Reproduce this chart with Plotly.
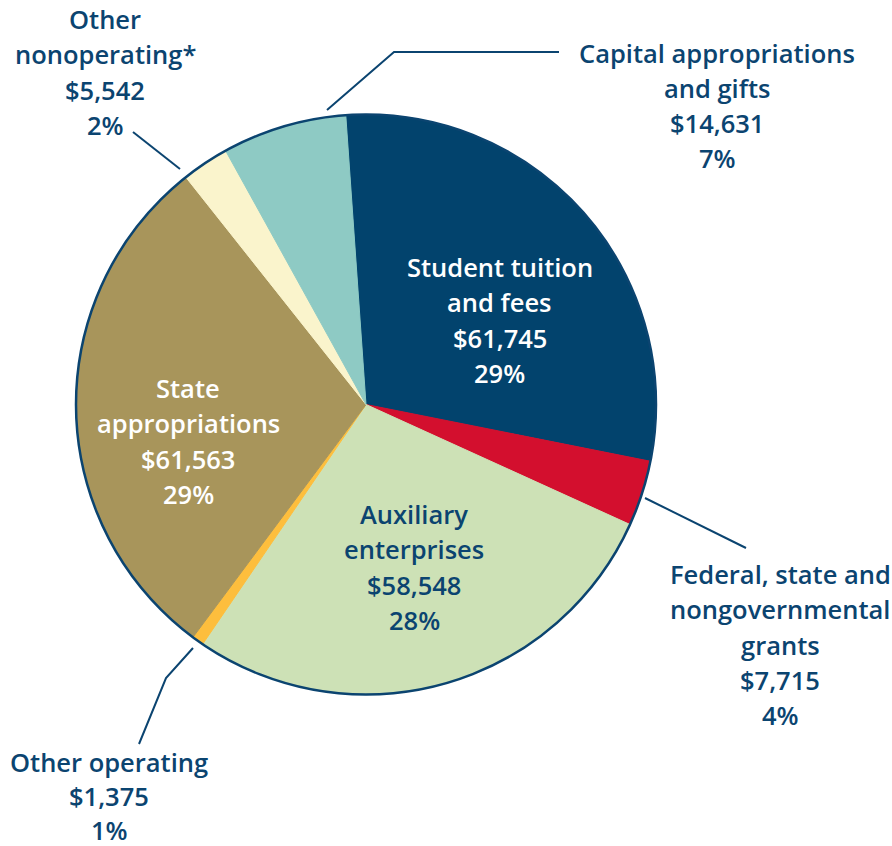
import plotly.graph_objects as go

# ---------------- data ----------------
categories = [
    "Student tuition and fees",
    "Federal, state and nongovernmental grants",
    "Auxiliary enterprises",
    "Other operating",
    "State appropriations",
    "Other nonoperating*",
    "Capital appropriations and gifts",
]
values = [61745, 7715, 58548, 1375, 61563, 5542, 14631]
percents = ["29%", "4%", "28%", "1%", "29%", "2%", "7%"]
label_lines = [
    ["Student tuition", "and fees"],
    ["Federal, state and", "nongovernmental", "grants"],
    ["Auxiliary", "enterprises"],
    ["Other operating"],
    ["State", "appropriations"],
    ["Other", "nonoperating*"],
    ["Capital appropriations", "and gifts"],
]

# ---------------- style ----------------
W, H = 892, 846
NAVY = "#0B4470"
colors = ["#02436D", "#D30F2E", "#CDE1B6", "#FDBE3D", "#A8955B", "#FAF4CC", "#8ECAC4"]
text_colors = ["white", NAVY, NAVY, NAVY, "white", NAVY, NAVY]
FONT = "Open Sans"
FSIZE = 25.5

CX, CY, R = 366, 404.5, 290
dom_x = [(CX - R) / W, (CX + R) / W]
dom_y = [1 - (CY + R) / H, 1 - (CY - R) / H]

# label anchor (center x, first line y, line gap) in pixels
label_pos = [
    (500, 267, 35.3),
    (780, 574, 35.3),
    (414, 514, 35.3),
    (109, 762, 34.0),
    (188, 388, 35.3),
    (105, 19, 35.3),
    (717, 52.5, 35.3),
]

# leader lines (pixels)
leaders = [
    None,
    [(645, 498), (746, 548)],
    None,
    [(193, 648), (166, 678), (139, 744)],
    None,
    [(133, 132), (180, 169)],
    [(327, 110), (394, 52), (559, 52)],
]

fig = go.Figure()
fig.add_trace(go.Pie(
    labels=categories,
    values=values,
    sort=False,
    direction="clockwise",
    rotation=-4,
    marker=dict(colors=colors, line=dict(color=colors, width=1)),
    textinfo="none",
    hoverinfo="label+value+percent",
    domain=dict(x=dom_x, y=dom_y),
    showlegend=False,
))
# outer border ring
fig.add_trace(go.Pie(
    values=[1],
    marker=dict(colors=["rgba(0,0,0,0)"], line=dict(color=NAVY, width=2.5)),
    textinfo="none",
    hoverinfo="skip",
    domain=dict(x=dom_x, y=dom_y),
    showlegend=False,
    sort=False,
))

annotations = []
for i, cat in enumerate(categories):
    lines = label_lines[i] + ["${:,}".format(values[i]), percents[i]]
    x0, y0, gap = label_pos[i]
    for k, t in enumerate(lines):
        annotations.append(dict(
            x=x0 / W, y=1 - (y0 + k * gap) / H,
            xref="paper", yref="paper",
            text=t, showarrow=False,
            xanchor="center", yanchor="middle",
            font=dict(family=FONT, size=FSIZE, color=text_colors[i], weight=600),
        ))

shapes = []
for pts in leaders:
    if not pts:
        continue
    path = "M " + " L ".join(f"{x / W},{1 - y / H}" for x, y in pts)
    shapes.append(dict(type="path", xref="paper", yref="paper", path=path,
                       line=dict(color=NAVY, width=2)))

fig.update_layout(
    width=W, height=H,
    margin=dict(l=0, r=0, t=0, b=0),
    paper_bgcolor="white",
    plot_bgcolor="white",
    annotations=annotations,
    shapes=shapes,
)

fig.write_html(
    "out.html",
    config={"displayModeBar": False},
    post_script="document.body.style.margin='0';document.body.style.overflow='hidden';",
)
